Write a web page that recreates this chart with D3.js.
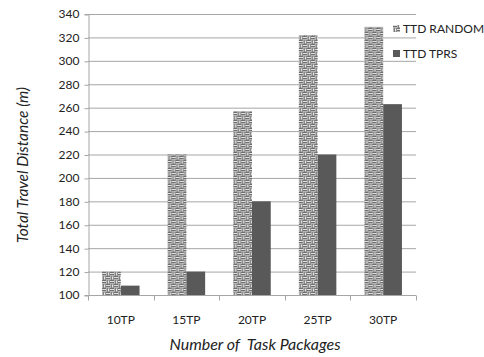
<!DOCTYPE html>
<html>
<head>
<meta charset="utf-8">
<script src="https://cdn.jsdelivr.net/npm/d3@7"></script>
<style>
  html, body { margin: 0; padding: 0; background: #fff; }
  svg { display: block; }
  text { font-family: Lato, "Open Sans", sans-serif; fill: #222; }
</style>
</head>
<body>
<svg id="chart" width="484" height="357"></svg>
<script>
// Total travel distance per number of task packages
const categories = ["10TP", "15TP", "20TP", "25TP", "30TP"];
const seriesNames = ["TTD RANDOM", "TTD TPRS"];
const ttdRandom = [120, 220, 257, 322, 329];
const ttdTprs = [108, 120, 180, 220, 263];
const yTicks = [100, 120, 140, 160, 180, 200, 220, 240, 260, 280, 300, 320, 340];

const svg = d3.select("#chart");
const margin = { left: 88, right: 68, top: 14, bottom: 62 };
const W = 484, H = 357;

// woven fill for the random-assignment bars
const defs = svg.append("defs");
const pat = defs.append("pattern")
  .attr("id", "weave")
  .attr("patternUnits", "userSpaceOnUse")
  .attr("width", 8).attr("height", 8);
pat.append("rect").attr("width", 8).attr("height", 8).attr("fill", "#b6b6b6");
const strokes = [
  [0, 0, 4, 1, "#6e6e6e"], [0, 2, 4, 1, "#6e6e6e"], [5, 0, 1, 4, "#7e7e7e"], [7, 0, 1, 4, "#8e8e8e"],
  [4, 4, 4, 1, "#6e6e6e"], [4, 6, 4, 1, "#6e6e6e"], [1, 4, 1, 4, "#7e7e7e"], [3, 4, 1, 4, "#8e8e8e"],
  [0, 1, 4, 1, "#e2e2e2"], [4, 5, 4, 1, "#e2e2e2"], [6, 1, 1, 2, "#ececec"], [2, 5, 1, 2, "#ececec"]
];
strokes.forEach(([sx, sy, sw, sh, c]) => {
  pat.append("rect").attr("x", sx).attr("y", sy).attr("width", sw).attr("height", sh).attr("fill", c);
});

const x = d3.scaleBand()
  .domain(categories)
  .range([margin.left, W - margin.right])
  .paddingInner(0).paddingOuter(0);

const y = d3.scaleLinear()
  .domain([100, 340])
  .range([H - margin.bottom, margin.top]);

// gridlines
svg.append("g")
  .selectAll("line")
  .data(yTicks)
  .join("line")
  .attr("x1", margin.left).attr("x2", W - margin.right)
  .attr("y1", d => y(d) + 0.5).attr("y2", d => y(d) + 0.5)
  .attr("stroke", "#a6a6a6").attr("stroke-width", 1);

// y axis
const yAxis = svg.append("g")
  .attr("transform", `translate(${margin.left + 0.5},0)`)
  .call(d3.axisLeft(y).tickValues(yTicks).tickSize(4).tickPadding(5));
yAxis.select(".domain").attr("stroke", "#a6a6a6");
yAxis.selectAll(".tick line").attr("stroke", "#a6a6a6").attr("transform", "translate(0,0.5)");
yAxis.selectAll(".tick text")
  .attr("font-size", 12)
  .attr("font-family", "Lato, sans-serif")
  .attr("fill", "#222");

// x axis with boundary ticks between categories
const xg = svg.append("g")
  .attr("transform", `translate(0,${H - margin.bottom + 0.5})`);
xg.append("line")
  .attr("x1", margin.left).attr("x2", W - margin.right)
  .attr("stroke", "#a6a6a6");
const bounds = categories.map(c => x(c)).concat([x(categories[categories.length - 1]) + x.bandwidth()]);
xg.selectAll(".bt").data(bounds).join("line")
  .attr("class", "bt")
  .attr("x1", d => Math.round(d) + 0.5).attr("x2", d => Math.round(d) + 0.5)
  .attr("y1", 0).attr("y2", 5)
  .attr("stroke", "#a6a6a6");
xg.selectAll(".cl").data(categories).join("text")
  .attr("class", "cl")
  .attr("x", d => x(d) + x.bandwidth() / 2)
  .attr("y", 28)
  .attr("text-anchor", "middle")
  .attr("font-size", 12)
  .text(d => d);

// bars: group width = 2 bars, gap = 150% of a bar
const barW = x.bandwidth() / 3.5;
const sub = d3.scaleBand().domain(seriesNames)
  .range([0, barW * 2]);
const groupOffset = barW * 0.75;

const rows = categories.map((c, i) => ({ c, vals: [ttdRandom[i], ttdTprs[i]] }));
const fills = ["url(#weave)", "#595959"];

svg.append("g").selectAll("g")
  .data(rows)
  .join("g")
  .attr("transform", d => `translate(${x(d.c) + groupOffset},0)`)
  .selectAll("rect")
  .data(d => d.vals.map((v, k) => ({ k, v })))
  .join("rect")
  .attr("x", d => sub(seriesNames[d.k]))
  .attr("width", sub.bandwidth())
  .attr("y", d => y(d.v))
  .attr("height", d => y(100) - y(d.v))
  .attr("fill", d => fills[d.k]);

// legend
const lg = svg.append("g").attr("transform", "translate(393,0)");
seriesNames.forEach((s, i) => {
  const cy = 29 + i * 25;
  lg.append("rect")
    .attr("x", 0).attr("y", cy - 4)
    .attr("width", 7).attr("height", 7)
    .attr("fill", fills[i]);
  lg.append("text")
    .attr("x", 10).attr("y", cy + 4)
    .attr("font-size", 12)
    .text(s);
});

// axis titles
svg.append("text")
  .attr("transform", "translate(28,165) rotate(-90)")
  .attr("text-anchor", "middle")
  .attr("font-size", 15.5)
  .attr("font-style", "italic")
  .text("Total Travel Distance (m)");

svg.append("text")
  .attr("x", 255)
  .attr("y", 350)
  .attr("text-anchor", "middle")
  .attr("font-size", 16)
  .attr("font-style", "italic")
  .attr("xml:space", "preserve")
  .text("Number of  Task Packages");
</script>
</body>
</html>
